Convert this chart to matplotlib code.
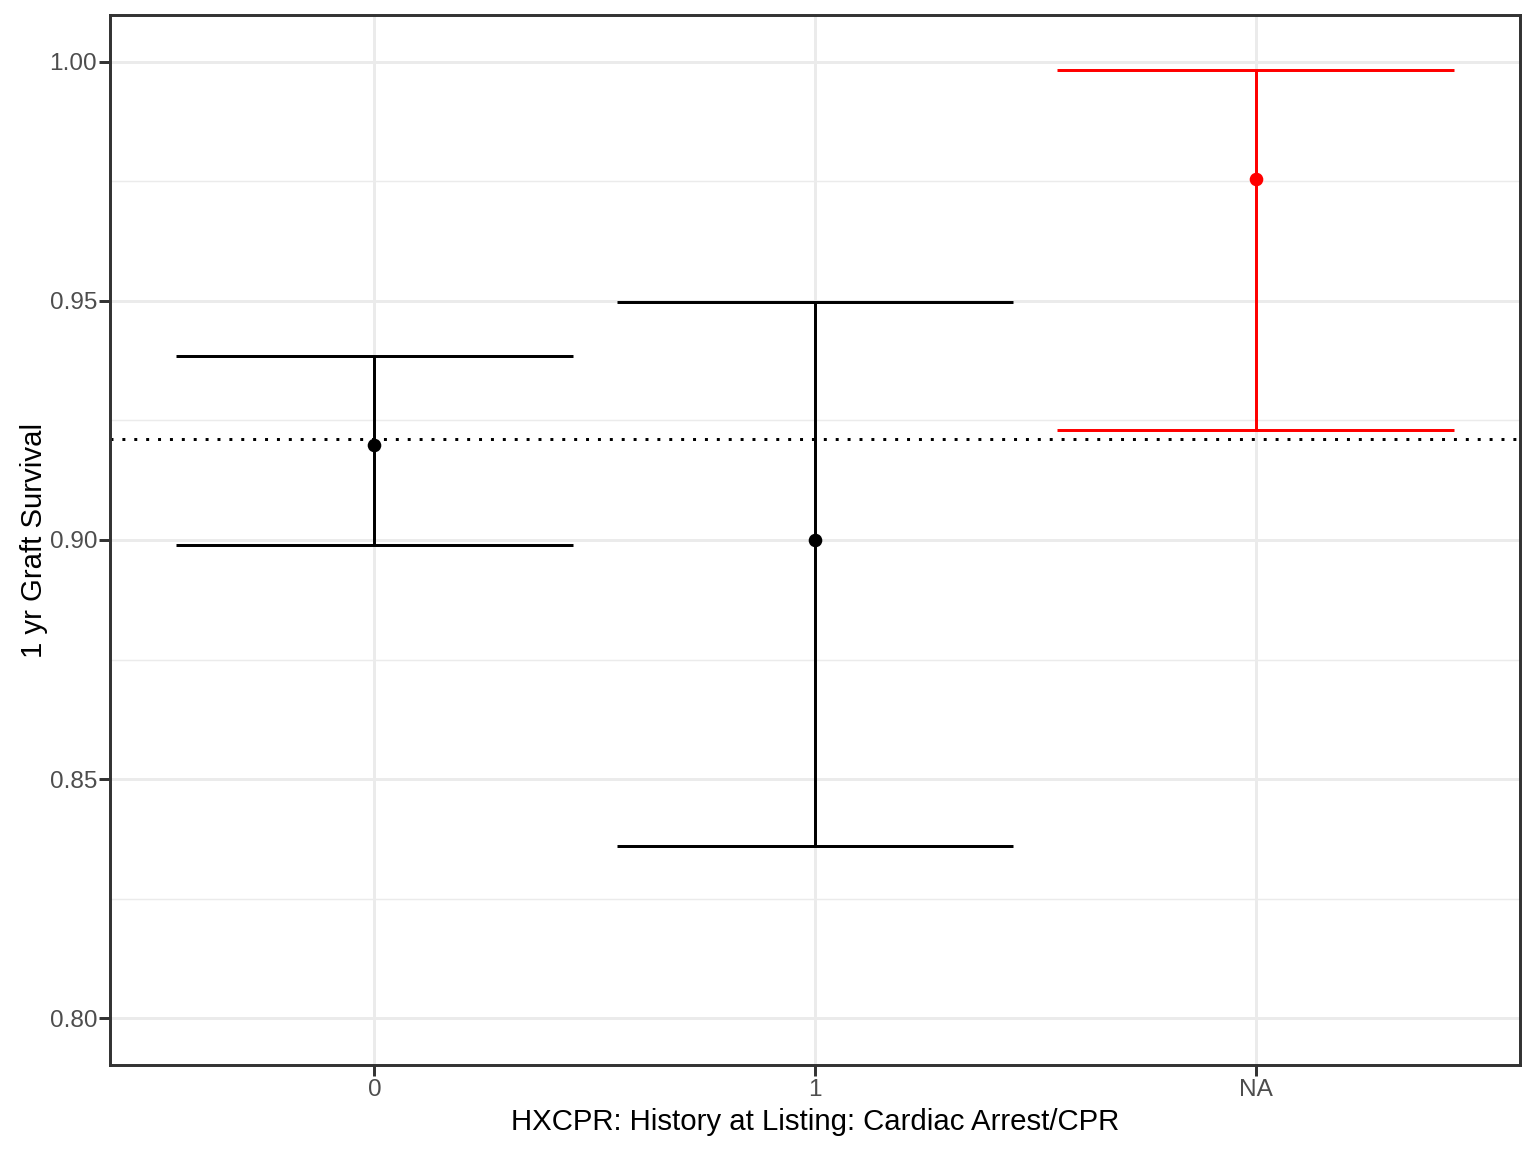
import matplotlib.pyplot as plt
import numpy as np
from matplotlib import rcParams

# 数据
groups = ['0', '1', 'NA']
estimate = [0.9199, 0.9000, 0.9755]
lower = [0.8990, 0.8360, 0.9230]
upper = [0.9385, 0.9498, 0.9983]
colors = ['black', 'black', '#FF0000']
overall = 0.9211


def draw_ci_plot(ax):
    x = np.arange(1, len(groups) + 1)
    half_w = 0.45
    lw = 1.07

    for i in range(len(groups)):
        c = colors[i]
        ax.vlines(x[i], lower[i], upper[i], color=c, lw=lw, zorder=3)
        ax.hlines([lower[i], upper[i]], x[i] - half_w, x[i] + half_w, color=c, lw=lw, zorder=3)
        ax.plot(x[i], estimate[i], 'o', color=c, ms=4.9, mew=0, zorder=4)

    ax.axhline(overall, color='black', lw=lw, linestyle=(0, (1, 3)), dash_capstyle='butt', zorder=2)

    ax.set_xlim(0.4, 3.6)
    ax.set_ylim(0.7902, 1.0098)
    ax.set_xticks(x, groups)
    ax.set_yticks([0.80, 0.85, 0.90, 0.95, 1.00], ['0.80', '0.85', '0.90', '0.95', '1.00'])
    ax.set_yticks([0.825, 0.875, 0.925, 0.975], minor=True)

    # 设置grid
    ax.grid(which='major', color='#EBEBEB', lw=1.07, zorder=0)
    ax.grid(which='minor', axis='y', color='#EBEBEB', lw=0.53, zorder=0)
    ax.set_axisbelow(True)

    ax.tick_params(which='major', length=3.8, width=1.07, color='#333333',
                   labelsize=8.8, labelcolor='#4D4D4D')
    ax.tick_params(axis='y', pad=0.8)
    ax.tick_params(axis='x', pad=1.2)
    ax.tick_params(which='minor', length=0)
    for sp in ax.spines.values():
        sp.set_color('#333333')
        sp.set_linewidth(1.07)

    ax.set_xlabel('HXCPR: History at Listing: Cardiac Arrest/CPR', fontsize=10.6, labelpad=2.6)
    ax.set_ylabel('1 yr Graft Survival', fontsize=10.6, labelpad=0.6)


if __name__ == '__main__':
    rcParams.update({
        'font.family': ['Liberation Sans', 'DejaVu Sans'],
        'font.size': 11,
    })

    fig = plt.figure(figsize=(7.68, 5.76), dpi=200)
    ax = fig.add_axes([110 / 1536, 1 - 1065 / 1152, 1410 / 1536, 1050 / 1152])
    draw_ci_plot(ax)

    plt.savefig('out.png', dpi=200)
